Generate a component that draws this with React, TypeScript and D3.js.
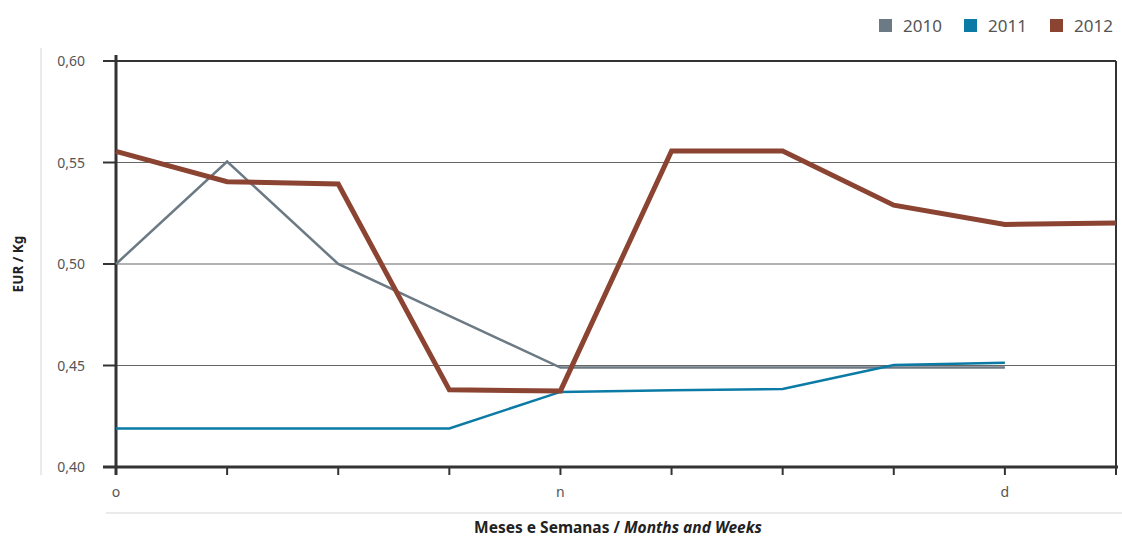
import React from "react";
import * as d3 from "d3";

const weeks = ["w1", "w2", "w3", "w4", "w5", "w6", "w7", "w8", "w9", "w10"];
const weekLabels = ["o", "", "", "", "n", "", "", "", "d", ""];
const yTicks = [0.4, 0.45, 0.5, 0.55, 0.6];

const s2010 = [0.5, 0.5505, 0.5, 0.4745, 0.449, 0.449, 0.449, 0.449, 0.449, null];
const s2011 = [0.419, 0.419, 0.419, 0.419, 0.437, 0.4378, 0.4384, 0.4502, 0.4514, null];
const s2012 = [0.5555, 0.5405, 0.5394, 0.438, 0.4375, 0.5557, 0.5557, 0.529, 0.5195, 0.5202];

const seriesNames = ["2010", "2011", "2012"];
const seriesColors = ["#6b7a84", "#0b7ba6", "#8b4332"];
const seriesWidths = [2.5, 2.5, 5];

const W = 1122;
const H = 539;
const left = 116;
const right = 1116;
const top = 61;
const bottom = 467;

export default function App() {
  const x = d3.scalePoint<string>().domain(weeks).range([left, right]);
  const y = d3.scaleLinear().domain([0.4, 0.6]).range([bottom, top]);
  const fmt = (v: number) => v.toFixed(2).replace(".", ",");
  const allSeries = [s2010, s2011, s2012];
  const line = d3
    .line<number | null>()
    .defined((d) => d !== null)
    .x((_, i) => x(weeks[i]) as number)
    .y((d) => y(d as number));

  const font = "'Noto Sans', 'DejaVu Sans', sans-serif";
  const legendX = [879, 964, 1050];

  return (
    <svg
      width={W}
      height={H}
      style={{ position: "absolute", left: 0, top: 0, background: "#fff" }}
      fontFamily={font}
    >
      {/* light decorative lines */}
      <line x1={41} x2={41} y1={48} y2={475} stroke="#e3e3e3" strokeWidth={1.5} />
      <line x1={106} x2={1122} y1={513} y2={513} stroke="#e3e3e3" strokeWidth={1.5} />

      {/* gridlines */}
      {yTicks.slice(1, 4).map((t) => (
        <line key={t} x1={left} x2={right} y1={y(t)} y2={y(t)} stroke="#666" strokeWidth={1.2} />
      ))}
      {/* frame top & right */}
      <line x1={103} x2={right} y1={top} y2={top} stroke="#333" strokeWidth={2} />
      <line x1={right} x2={right} y1={top} y2={475} stroke="#333" strokeWidth={2} />

      {/* y ticks and labels */}
      {yTicks.map((t) => (
        <g key={"yt" + t}>
          <line x1={103} x2={left} y1={y(t)} y2={y(t)} stroke="#333" strokeWidth={2} />
          <text x={85} y={y(t) + 5} textAnchor="end" fontSize={14} fill="#555">
            {fmt(t)}
          </text>
        </g>
      ))}

      {/* x ticks and labels */}
      {weeks.map((w, i) => (
        <g key={w}>
          <line x1={x(w)} x2={x(w)} y1={bottom} y2={475} stroke="#333" strokeWidth={2} />
          {weekLabels[i] && (
            <text x={x(w)} y={497} textAnchor="middle" fontSize={14} fill="#555">
              {weekLabels[i]}
            </text>
          )}
        </g>
      ))}

      {/* axes */}
      <line x1={left} x2={left} y1={55} y2={475} stroke="#333" strokeWidth={3} />
      <line x1={103} x2={right + 2} y1={bottom} y2={bottom} stroke="#333" strokeWidth={3} />

      {/* series */}
      {allSeries.map((s, k) => (
        <path
          key={seriesNames[k]}
          d={line(s) || ""}
          fill="none"
          stroke={seriesColors[k]}
          strokeWidth={seriesWidths[k]}
          strokeLinejoin="miter"
        />
      ))}

      {/* axis titles */}
      <text
        transform={`translate(23,${(top + bottom) / 2}) rotate(-90)`}
        textAnchor="middle"
        fontSize={13.5}
        fontWeight="bold"
        fill="#222"
      >
        EUR / Kg
      </text>
      <text x={618} y={533} textAnchor="middle" fontSize={15.5} fontWeight="bold" fill="#222">
        Meses e Semanas / <tspan fontStyle="italic">Months and Weeks</tspan>
      </text>

      {/* legend */}
      {seriesNames.map((n, k) => (
        <g key={"lg" + n}>
          <rect x={legendX[k]} y={19} width={13} height={13} fill={seriesColors[k]} />
          <text x={legendX[k] + 24} y={32} fontSize={17} fill="#555">
            {n}
          </text>
        </g>
      ))}
    </svg>
  );
}
